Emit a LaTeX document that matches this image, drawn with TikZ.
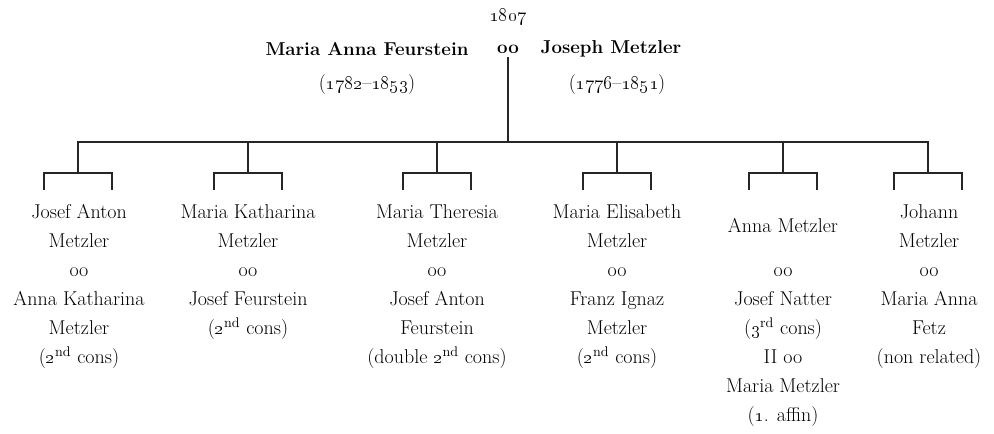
\documentclass[tikz,border=0pt]{standalone}
\usetikzlibrary{calc}
\begin{document}
\begin{tikzpicture}[x=0.75pt,y=-0.75pt,
  tree/.style={line width=1.4pt, draw=black!85, line cap=rect},
  txt/.style={align=center, inner sep=0pt, font=\fontsize{15}{21.75}\selectfont, text=black},
  toptxt/.style={txt, font=\fontsize{14}{21.75}\selectfont\bfseries},
  namebox/.style={txt, anchor=north},
]
\useasboundingbox (0,0) rectangle (994,433);
\newcommand{\osn}[1]{\oldstylenums{#1}}
% parents
\node[txt] (yr) at (508,17) {\osn{1807}};
\node[toptxt] (mo) at (367,49) {Maria Anna Feurstein};
\node[toptxt] (mar) at (508,49) {oo};
\node[toptxt] (fa) at (611,49) {Joseph Metzler};
\node[txt] (mod) at (367,85) {(\osn{1782}--\osn{1853})};
\node[txt] (fad) at (617,85) {(\osn{1776}--\osn{1851})};
% tree coordinates
\coordinate (top) at (508,58);
\foreach \i/\x in {1/78,2/248,3/437,4/617,5/783,6/928}{
  \coordinate (d\i) at (\x,142);
  \coordinate (b\i) at (\x,173);
  \coordinate (l\i) at (\x-34,173);
  \coordinate (r\i) at (\x+34,173);
  \coordinate (lf\i) at (\x-34,189);
  \coordinate (rf\i) at (\x+34,189);
}
\draw[tree] (top) -- (top |- d1);
\draw[tree] (d1) -- (d6);
\foreach \i in {1,...,6}{
  \draw[tree] (d\i) -- (b\i);
  \draw[tree] (lf\i) -- (l\i) -- (r\i) -- (rf\i);
}
% children
\node[namebox] (c1) at (79,198) {\strut Josef Anton\\Metzler};
\node[namebox] (s1) at (79,256) {\strut oo\\Anna Katharina\\Metzler\\(\osn{2}\textsuperscript{nd} cons)};
\node[namebox] (c2) at (248,198) {\strut Maria Katharina\\Metzler};
\node[namebox] (s2) at (248,256) {\strut oo\\Josef Feurstein\\(\osn{2}\textsuperscript{nd} cons)};
\node[namebox] (c3) at (437,198) {\strut Maria Theresia\\Metzler};
\node[namebox] (s3) at (437,256) {\strut oo\\Josef Anton\\Feurstein\\(double \osn{2}\textsuperscript{nd} cons)};
\node[namebox] (c4) at (617,198) {\strut Maria Elisabeth\\Metzler};
\node[namebox] (s4) at (617,256) {\strut oo\\Franz Ignaz\\Metzler\\(\osn{2}\textsuperscript{nd} cons)};
\node[txt] (c5) at (783,226) {Anna Metzler};
\node[namebox] (s5) at (783,256) {\strut oo\\Josef Natter\\(\osn{3}\textsuperscript{rd} cons)\\II oo\\Maria Metzler\\(\osn{1}. affin)};
\node[namebox] (c6) at (929,198) {\strut Johann\\Metzler};
\node[namebox] (s6) at (929,256) {\strut oo\\Maria Anna\\Fetz\\(non related)};
\end{tikzpicture}
\end{document}
